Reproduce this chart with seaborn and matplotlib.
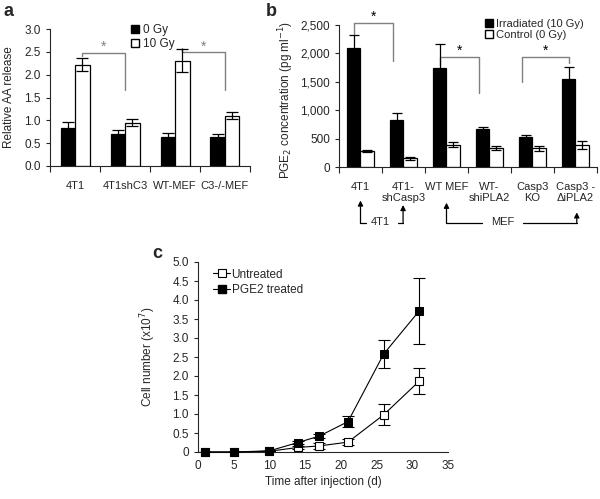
import matplotlib
matplotlib.use('Agg')
import matplotlib.pyplot as plt
import matplotlib.patches as mpatches
import matplotlib.lines as mlines
import pandas as pd
import numpy as np
import seaborn as sns

# ---- datos panel a
a_cats = ['4T1', '4T1shC3', 'WT-MEF', 'C3-/-MEF']
a_0gy = [0.84, 0.70, 0.63, 0.64]
a_0gy_err = [0.12, 0.09, 0.09, 0.05]
a_10gy = [2.22, 0.95, 2.31, 1.10]
a_10gy_err = [0.15, 0.07, 0.26, 0.08]
a_yticks = [0.0, 0.5, 1.0, 1.5, 2.0, 2.5, 3.0]

# ---- datos panel b
b_cats = ['4T1', '4T1-\nshCasp3', 'WT MEF', 'WT-\nshiPLA2', 'Casp3\nKO', 'Casp3 -\n\u0394iPLA2']
b_irr = [2100, 830, 1740, 670, 520, 1550]
b_irr_err = [230, 120, 420, 40, 50, 210]
b_ctl = [280, 150, 395, 335, 330, 395]
b_ctl_err = [20, 30, 40, 30, 40, 70]
b_yticks = [0, 500, 1000, 1500, 2000, 2500]
b_yticklabels = ['0', '500', '1,000', '1,500', '2,000', '2,500']

# ---- datos panel c
c_days = [1, 5, 10, 14, 17, 21, 26, 31]
c_untr = [0, 0, 0.02, 0.12, 0.16, 0.26, 0.98, 1.87]
c_untr_err = [0, 0, 0, 0.05, 0.07, 0.07, 0.28, 0.35]
c_pge2 = [0, 0, 0.03, 0.25, 0.42, 0.80, 2.58, 3.72]
c_pge2_err = [0, 0, 0, 0.05, 0.05, 0.15, 0.36, 0.87]
c_yticks = [0, 0.5, 1.0, 1.5, 2.0, 2.5, 3.0, 3.5, 4.0, 4.5, 5.0]
c_yticklabels = ['0', '0.5', '1.0', '1.5', '2.0', '2.5', '3.0', '3.5', '4.0', '4.5', '5.0']
c_xticks = [0, 5, 10, 15, 20, 25, 30, 35]

sns.set_style('ticks')
plt.rcParams['font.family'] = ['Liberation Sans', 'DejaVu Sans']
plt.rcParams['font.size'] = 8.5
plt.rcParams['axes.linewidth'] = 0.8
plt.rcParams['xtick.major.width'] = 0.8
plt.rcParams['ytick.major.width'] = 0.8
plt.rcParams['xtick.minor.width'] = 0.8

fig = plt.figure(figsize=(6, 4.99), dpi=100)
W, H = 600, 499


def px_axes(l, t, r, b):
    return fig.add_axes([l / W, (H - b) / H, (r - l) / W, (b - t) / H])


def cat_ticks(ax, n, labels):
    ax.set_xlim(-0.5, n - 0.5)
    ax.set_xticks(range(n))
    ax.set_xticklabels(labels, fontsize=8)
    ax.set_xticks(np.arange(-0.5, n, 1.0), minor=True)
    ax.tick_params(axis='x', which='major', length=0, pad=11)
    ax.tick_params(axis='x', which='minor', length=4, direction='out')
    ax.set_xlabel('')


def add_err(ax, errs_list, cap):
    for cont, errs in zip(ax.containers, errs_list):
        xs = [b.get_x() + b.get_width() / 2 for b in cont]
        hs = [b.get_height() for b in cont]
        ax.errorbar(xs, hs, yerr=errs, fmt='none', ecolor='black',
                    elinewidth=0.9, capsize=cap, capthick=0.9, zorder=5)


def bracket(ax, x1, x2, ytop, y1, y2, star_y, color='gray', star_color='gray'):
    ax.plot([x1, x1, x2, x2], [y1, ytop, ytop, y2], color=color, lw=1, clip_on=False)
    ax.text((x1 + x2) / 2, star_y, '*', ha='center', va='center', color=star_color, fontsize=10)


# ================= panel a
ax = px_axes(50, 29, 250, 166)
df_a = pd.DataFrame({'cat': a_cats * 2,
                     'val': a_0gy + a_10gy,
                     'dose': ['0 Gy'] * 4 + ['10 Gy'] * 4})
sns.barplot(data=df_a, x='cat', y='val', hue='dose', palette={'0 Gy': 'black', '10 Gy': 'white'},
            edgecolor='black', linewidth=0.9, width=0.58, errorbar=None, ax=ax, legend=False)
add_err(ax, [a_0gy_err, a_10gy_err], 4)
cat_ticks(ax, 4, a_cats)
ax.set_ylim(0, 3.0)
ax.set_yticks(a_yticks)
ax.set_yticklabels(['%.1f' % v for v in a_yticks])
ax.tick_params(axis='y', length=3)
ax.set_ylabel('Relative AA release')
ax.yaxis.set_label_coords(-0.175, 0.5)
sns.despine(ax=ax)
bracket(ax, 0.145, 1.0, 2.48, 2.40, 1.67, 2.6)
bracket(ax, 2.145, 3.0, 2.50, 2.58, 1.67, 2.62)
h_a = [mpatches.Patch(facecolor='black', edgecolor='black', label='0 Gy'),
       mpatches.Patch(facecolor='white', edgecolor='black', label='10 Gy')]
ax.legend(handles=h_a, loc='upper left', bbox_to_anchor=(0.38, 1.07), frameon=False,
          handlelength=0.7, handleheight=0.7, handletextpad=0.3, labelspacing=0.15,
          borderaxespad=0)
fig.text(3 / W, 1 - 12 / H, 'a', fontsize=13, fontweight='bold', va='center')

# ================= panel b
ax = px_axes(339, 25, 597, 167)
df_b = pd.DataFrame({'cat': b_cats * 2,
                     'val': b_irr + b_ctl,
                     'grp': ['Irradiated (10 Gy)'] * 6 + ['Control (0 Gy)'] * 6})
sns.barplot(data=df_b, x='cat', y='val', hue='grp',
            palette={'Irradiated (10 Gy)': 'black', 'Control (0 Gy)': 'white'},
            edgecolor='black', linewidth=0.9, width=0.62, errorbar=None, ax=ax, legend=False)
add_err(ax, [b_irr_err, b_ctl_err], 3.5)
cat_ticks(ax, 6, b_cats)
for t in ax.get_xticklabels():
    t.set_linespacing(1.05)
ax.set_ylim(0, 2500)
ax.set_yticks(b_yticks)
ax.set_yticklabels(b_yticklabels)
ax.tick_params(axis='y', length=3)
ax.set_ylabel('PGE$_2$ concentration (pg ml$^{-1}$)')
ax.yaxis.set_label_coords(-0.165, 0.47)
sns.despine(ax=ax)
bracket(ax, -0.15, 0.75, 2530, 2340, 1870, 2650, star_color='black')
bracket(ax, 1.85, 2.75, 1940, 1800, 1300, 2040, star_color='black')
bracket(ax, 3.75, 4.85, 1940, 1500, 1830, 2040, star_color='black')
h_b = [mpatches.Patch(facecolor='black', edgecolor='black', label='Irradiated (10 Gy)'),
       mpatches.Patch(facecolor='white', edgecolor='black', label='Control (0 Gy)')]
ax.legend(handles=h_b, loc='upper left', bbox_to_anchor=(0.55, 1.075), frameon=False,
          handlelength=0.7, handleheight=0.7, handletextpad=0.3, labelspacing=0.1,
          borderaxespad=0, fontsize=8)
# flechas de agrupacion debajo del eje
arr = dict(arrowstyle='-|>,head_width=0.18,head_length=0.35', color='black', lw=0.9,
           shrinkA=0, shrinkB=0)
ax.plot([0.13, 0.0], [-990, -990], color='black', lw=0.9, clip_on=False)
ax.annotate('', xy=(0.0, -590), xytext=(0.0, -990), arrowprops=arr, annotation_clip=False)
ax.text(0.45, -975, '4T1', ha='center', va='center', fontsize=8)
ax.plot([0.87, 0.99], [-990, -990], color='black', lw=0.9, clip_on=False)
ax.annotate('', xy=(0.99, -670), xytext=(0.99, -990), arrowprops=arr, annotation_clip=False)
ax.plot([2.83, 2.0], [-990, -990], color='black', lw=0.9, clip_on=False)
ax.annotate('', xy=(2.0, -630), xytext=(2.0, -990), arrowprops=arr, annotation_clip=False)
ax.text(3.31, -975, 'MEF', ha='center', va='center', fontsize=8)
ax.plot([3.78, 5.03], [-990, -990], color='black', lw=0.9, clip_on=False)
ax.annotate('', xy=(5.03, -800), xytext=(5.03, -990), arrowprops=arr, annotation_clip=False)
fig.text(266 / W, 1 - 11 / H, 'b', fontsize=13, fontweight='bold', va='center')

# ================= panel c
ax = px_axes(198, 262, 448, 452)
ax.errorbar(c_days, c_untr, yerr=c_untr_err, fmt='none', ecolor='black', elinewidth=0.8,
            capsize=4, capthick=0.8, zorder=2)
ax.errorbar(c_days, c_pge2, yerr=c_pge2_err, fmt='none', ecolor='black', elinewidth=0.8,
            capsize=4, capthick=0.8, zorder=2)
sns.lineplot(x=c_days, y=c_untr, ax=ax, color='black', lw=0.8, marker='s', markersize=5.5,
             markerfacecolor='white', markeredgecolor='black', markeredgewidth=0.8,
             zorder=3, clip_on=False)
sns.lineplot(x=c_days, y=c_pge2, ax=ax, color='black', lw=0.8, marker='s', markersize=6,
             markerfacecolor='black', markeredgecolor='black', zorder=4, clip_on=False)
ax.set_xlim(0, 35)
ax.set_ylim(0, 5.0)
ax.set_xticks(c_xticks)
ax.tick_params(axis='x', length=0, pad=6)
ax.set_yticks(c_yticks)
ax.set_yticklabels(c_yticklabels)
ax.tick_params(axis='y', length=3)
ax.set_xlabel('Time after injection (d)', labelpad=3)
ax.set_ylabel('Cell number (x10$^7$)')
ax.yaxis.set_label_coords(-0.16, 0.5)
sns.despine(ax=ax)
h_c = [mlines.Line2D([], [], color='black', lw=0.8, marker='s', markersize=5.5,
                     markerfacecolor='white', markeredgewidth=0.8, label='Untreated'),
       mlines.Line2D([], [], color='black', lw=0.8, marker='s', markersize=6,
                     markerfacecolor='black', label='PGE2 treated')]
ax.legend(handles=h_c, loc='upper left', bbox_to_anchor=(0.04, 0.99), frameon=False,
          handlelength=1.5, handletextpad=0.1, labelspacing=0.3, borderaxespad=0)
fig.text(152 / W, 1 - 254 / H, 'c', fontsize=13, fontweight='bold', va='center')

fig.savefig('out.png', dpi=100)
